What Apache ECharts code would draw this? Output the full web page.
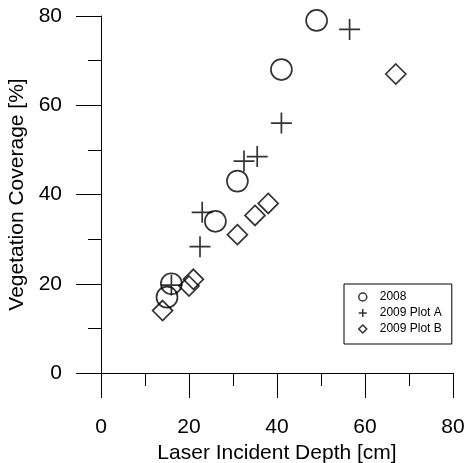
<!DOCTYPE html>
<html>
<head>
<meta charset="utf-8">
<script src="https://cdn.jsdelivr.net/npm/echarts@6/dist/echarts.min.js"></script>
<style>
  html, body { margin: 0; padding: 0; background: #fff; }
  #chart { width: 467px; height: 463px; }
</style>
</head>
<body>
<div id="chart"></div>
<script>
// Vegetation coverage vs. laser incident depth, three survey groups
const xTicks = [0, 20, 40, 60, 80];
const yTicks = [0, 20, 40, 60, 80];

const seriesNames = ['2008', '2009 Plot A', '2009 Plot B'];

const depth2008 = [49, 41, 31, 26, 16, 15];
const cover2008 = [79, 68, 43, 34, 20, 17];

const depth2009A = [56.5, 41, 35.5, 32.5, 23, 22.5, 16];
const cover2009A = [77, 56, 48.5, 47.5, 36, 28.3, 19.7];

const depth2009B = [67, 38, 35, 31, 21, 20, 14];
const cover2009B = [67, 38, 35.3, 31, 21, 19.5, 14];

const FONT = 'Liberation Sans, Arial, sans-serif';
const INK = '#000';

function pairs(xs, ys) {
  return xs.map((x, i) => [x, ys[i]]);
}

const hollow = {
  color: 'rgba(0,0,0,0)',
  borderColor: INK,
  borderWidth: 1.7
};

const chart = echarts.init(document.getElementById('chart'), null, { renderer: 'canvas' });

chart.setOption({
  animation: false,
  backgroundColor: '#fff',
  grid: {
    left: 101, right: 14, top: 16, bottom: 90,
    containLabel: false,
    outerBoundsMode: 'none'
  },
  xAxis: {
    type: 'value',
    min: xTicks[0],
    max: xTicks[xTicks.length - 1],
    interval: xTicks[1] - xTicks[0],
    name: 'Laser Incident Depth [cm]',
    nameLocation: 'middle',
    nameGap: 64,
    nameTextStyle: { fontFamily: FONT, fontSize: 21, color: INK },
    axisLine: { show: true, onZero: false, lineStyle: { color: INK, width: 1 } },
    axisTick: { show: true, inside: false, length: 25, lineStyle: { color: INK, width: 1 } },
    minorTick: { show: true, splitNumber: 2, length: 13, lineStyle: { color: INK, width: 1 } },
    axisLabel: { margin: 44, fontFamily: FONT, fontSize: 21, color: INK },
    splitLine: { show: false }
  },
  yAxis: {
    type: 'value',
    min: yTicks[0],
    max: yTicks[yTicks.length - 1],
    interval: yTicks[1] - yTicks[0],
    name: 'Vegetation Coverage [%]',
    nameLocation: 'middle',
    nameGap: 63,
    nameTextStyle: { fontFamily: FONT, fontSize: 21, color: INK },
    axisLine: { show: true, onZero: false, lineStyle: { color: INK, width: 1 } },
    axisTick: { show: true, inside: false, length: 25, lineStyle: { color: INK, width: 1 } },
    minorTick: { show: true, splitNumber: 2, length: 13, lineStyle: { color: INK, width: 1 } },
    axisLabel: { margin: 39, fontFamily: FONT, fontSize: 21, color: INK },
    splitLine: { show: false }
  },
  legend: {
    orient: 'vertical',
    left: 344,
    top: 284,
    width: 105,
    height: 60,
    padding: [7, 10, 9, 14],
    itemWidth: 8,
    itemHeight: 8,
    itemGap: 4,
    borderColor: INK,
    borderWidth: 1,
    backgroundColor: '#fff',
    itemStyle: { borderWidth: 1.5 },
    textStyle: { fontFamily: FONT, fontSize: 12, color: INK, lineHeight: 12, padding: [0, 0, 0, 8] },
    data: seriesNames
  },
  series: [
    {
      name: seriesNames[0],
      type: 'scatter',
      symbol: 'circle',
      symbolSize: 21,
      itemStyle: hollow,
      data: pairs(depth2008, cover2008)
    },
    {
      name: seriesNames[1],
      type: 'scatter',
      symbol: 'path://M10,0 L10,20 M0,10 L20,10',
      symbolSize: 21,
      itemStyle: hollow,
      data: pairs(depth2009A, cover2009A)
    },
    {
      name: seriesNames[2],
      type: 'scatter',
      symbol: 'diamond',
      symbolSize: 20,
      itemStyle: hollow,
      data: pairs(depth2009B, cover2009B)
    }
  ]
});
</script>
</body>
</html>
